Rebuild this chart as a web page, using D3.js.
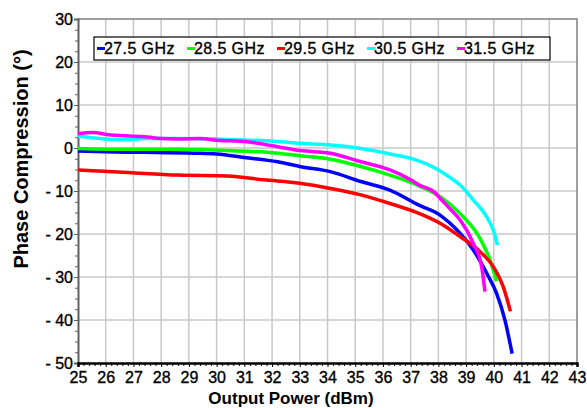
<!DOCTYPE html>
<html>
<head>
<meta charset="utf-8">
<script src="https://cdn.jsdelivr.net/npm/d3@7"></script>
<style>
  body { margin: 0; background: #fff; }
  text { font-family: Arial, "Liberation Sans", sans-serif; fill: #000; }
</style>
</head>
<body>
<script>
// series names
var seriesNames = ["27.5 GHz", "28.5 GHz", "29.5 GHz", "30.5 GHz", "31.5 GHz"];
var seriesColors = ["#0000ff", "#00ff00", "#ff0000", "#00ffff", "#ff00ff"];

// output power (dBm) and phase compression (deg)
var power275 = [25.0, 26.0, 27.4, 29.2, 30.0, 31.0, 32.2, 33.0, 34.1, 35.2, 36.25, 37.3, 38.06, 38.4, 38.78, 39.26, 39.74, 40.1, 40.4, 40.66];
var phase275 = [-0.7, -0.9, -1.0, -1.2, -1.4, -2.2, -3.2, -4.3, -5.5, -7.8, -9.8, -13.3, -15.6, -17.4, -19.8, -23.7, -29.1, -33.8, -40.0, -47.8];

var power285 = [25.0, 26.8, 28.6, 30.4, 32.2, 33.0, 34.1, 35.2, 36.25, 37.0, 37.3, 38.06, 38.78, 39.5, 39.86, 40.1];
var phase285 = [-0.1, -0.3, -0.3, -0.6, -1.2, -1.8, -2.6, -4.3, -6.3, -8.0, -8.8, -11.3, -15.2, -21.0, -26.0, -31.0];

var power295 = [25.0, 26.8, 28.6, 30.4, 31.7, 33.0, 34.1, 35.2, 36.25, 37.3, 38.06, 38.78, 39.5, 39.98, 40.34, 40.6];
var phase295 = [-5.1, -5.7, -6.3, -6.5, -7.4, -8.2, -9.4, -10.9, -12.9, -15.2, -17.5, -20.6, -24.1, -27.6, -32.3, -38.0];

var power305 = [25.0, 25.6, 26.5, 27.5, 28.6, 30.4, 32.2, 33.0, 34.1, 35.2, 35.9, 36.25, 37.1, 38.0, 38.54, 38.78, 39.26, 39.74, 39.98, 40.13];
var phase305 = [2.8, 2.3, 1.9, 2.2, 2.2, 2.0, 1.5, 1.1, 0.7, -0.1, -0.9, -1.4, -2.6, -5.1, -7.4, -8.6, -12.1, -16.0, -19.1, -22.6];

var power315 = [25.0, 25.5, 26.2, 27.4, 28.0, 28.6, 29.4, 30.0, 31.0, 32.2, 33.0, 34.1, 35.2, 36.25, 37.0, 37.3, 37.85, 38.06, 38.4, 38.78, 39.26, 39.56, 39.68];
var phase315 = [3.3, 3.6, 3.0, 2.6, 2.2, 2.1, 2.2, 1.8, 1.5, 0.3, -0.6, -1.2, -3.2, -5.1, -7.4, -8.6, -10.2, -11.7, -14.0, -16.7, -22.2, -27.6, -33.4];

// tick labels
var xTicks = d3.range(25, 44, 1);
var yTicks = [30, 20, 10, 0, -10, -20, -30, -40, -50];

var allPower = [power275, power285, power295, power305, power315];
var allPhase = [phase275, phase285, phase295, phase305, phase315];

var w = 587;
var h = 408;
var plotL = 78, plotR = 577, plotT = 19, plotB = 363;

var svg = d3.select("body")
    .append("svg")
    .attr("width", w)
    .attr("height", h);

var x = d3.scaleLinear().domain([25, 43]).range([plotL, plotR]);
var y = d3.scaleLinear().domain([-50, 30]).range([plotB, plotT]);

function yLabel(v) {
    return v < 0 ? "- " + Math.abs(v) : String(v);
}

//grid
svg.append("g")
    .selectAll("line")
    .data(xTicks.slice(1, -1))
    .enter()
    .append("line")
    .attr("x1", d => x(d)).attr("x2", d => x(d))
    .attr("y1", plotT).attr("y2", plotB)
    .attr("stroke", "#c8c8c8")
    .attr("stroke-width", 1.5);
svg.append("g")
    .selectAll("line")
    .data(yTicks.slice(1, -1))
    .enter()
    .append("line")
    .attr("x1", plotL).attr("x2", plotR)
    .attr("y1", d => y(d)).attr("y2", d => y(d))
    .attr("stroke", "#c8c8c8")
    .attr("stroke-width", 1.5);

//frame
svg.append("path")
    .attr("d", "M" + plotL + "," + plotT + "H" + plotR + "V" + plotB)
    .attr("fill", "none")
    .attr("stroke", "#808080")
    .attr("stroke-width", 1.5);

//y axis
var yAxis = d3.axisLeft(y)
    .tickValues(yTicks)
    .tickSize(4)
    .tickPadding(1)
    .tickFormat(yLabel);
var gy = svg.append("g")
    .attr("transform", "translate(" + plotL + ",0)")
    .call(yAxis);
gy.select(".domain").attr("stroke", "#606060").attr("stroke-width", 2);
gy.selectAll(".tick line").attr("stroke", "#606060");
gy.selectAll("text")
    .style("font-size", "16px")
    .attr("fill", "#000")
    .attr("stroke", "#000")
    .attr("stroke-width", 0.35);
svg.append("g")
    .attr("transform", "translate(" + plotL + ",0)")
    .call(d3.axisLeft(y).tickValues(d3.range(-50, 30.1, 2.5).filter(v => v % 10 !== 0)).tickSize(3).tickFormat(""))
    .call(g => g.select(".domain").remove())
    .selectAll("line").attr("stroke", "#606060");

//x axis
var xAxis = d3.axisBottom(x)
    .tickValues(xTicks)
    .tickSize(4)
    .tickPadding(5)
    .tickFormat(d3.format("d"));
var gx = svg.append("g")
    .attr("transform", "translate(0," + plotB + ")")
    .call(xAxis);
gx.select(".domain").attr("stroke", "#000").attr("stroke-width", 2.5);
gx.selectAll("text")
    .style("font-size", "16px")
    .attr("fill", "#000")
    .attr("stroke", "#000")
    .attr("stroke-width", 0.35);
svg.append("g")
    .attr("transform", "translate(0," + plotB + ")")
    .call(d3.axisBottom(x).tickValues(d3.range(25, 43.01, 0.2).filter(v => Math.abs(v - Math.round(v)) > 0.01)).tickSize(3).tickFormat(""))
    .call(g => g.select(".domain").remove())
    .selectAll("line").attr("stroke", "#000");

//lines
var line = d3.line()
    .x(d => x(d[0]))
    .y(d => y(d[1]))
    .curve(d3.curveMonotoneX);

seriesNames.forEach(function (name, i) {
    var pts = d3.zip(allPower[i], allPhase[i]);
    svg.append("path")
        .datum(pts)
        .attr("d", line)
        .attr("fill", "none")
        .attr("stroke", seriesColors[i])
        .attr("stroke-width", 3.5);
});

//legend
var legend = svg.append("g");
legend.append("rect")
    .attr("x", 94).attr("y", 37)
    .attr("width", 456).attr("height", 23)
    .attr("fill", "#fff")
    .attr("stroke", "#000")
    .attr("stroke-width", 1.2);
var items = legend.selectAll("g.item")
    .data(seriesNames)
    .enter()
    .append("g")
    .attr("class", "item")
    .attr("transform", (d, i) => "translate(" + (97 + i * 90) + ",0)");
items.append("line")
    .attr("x1", 0).attr("x2", 8)
    .attr("y1", 48.5).attr("y2", 48.5)
    .attr("stroke", (d, i) => seriesColors[i])
    .attr("stroke-width", 3);
items.append("text")
    .attr("x", 7)
    .attr("y", 54)
    .style("font-size", "16px")
    .style("letter-spacing", "0.4px")
    .attr("stroke", "#000")
    .attr("stroke-width", 0.35)
    .text(d => d);

//axis titles
svg.append("text")
    .attr("x", 291)
    .attr("y", 404)
    .attr("text-anchor", "middle")
    .style("font-size", "17px")
    .style("font-weight", "bold")
    .text("Output Power (dBm)");
svg.append("text")
    .attr("transform", "translate(28,159) rotate(-90)")
    .attr("text-anchor", "middle")
    .style("font-size", "20px")
    .style("font-weight", "bold")
    .text("Phase Compression (°)");
</script>
</body>
</html>
